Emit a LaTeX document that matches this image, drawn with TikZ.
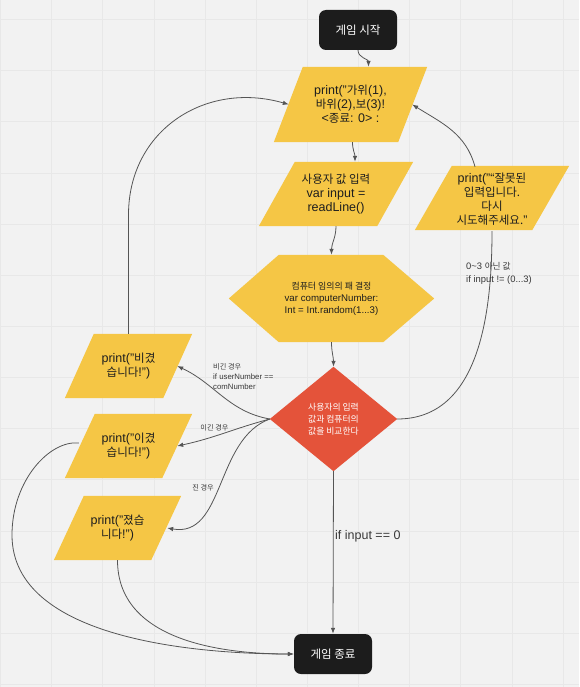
\documentclass[tikz,border=0pt]{standalone}
\usepackage{fontspec}
\setmainfont{Liberation Sans}
\newfontfamily\kr{Noto Sans CJK KR}[Scale=0.92]
\usetikzlibrary{arrows.meta,calc}

\definecolor{bgc}{HTML}{F2F2F2}
\definecolor{gridc}{HTML}{E8E8E8}
\definecolor{yel}{HTML}{F5C645}
\definecolor{redc}{HTML}{E4533A}
\definecolor{blk}{HTML}{1C1C1C}
\definecolor{ink}{HTML}{1E1E1E}
\definecolor{linec}{HTML}{555555}
\definecolor{lblc}{HTML}{383838}

\pgfdeclarelayer{canvas}
\pgfdeclarelayer{shapes}
\pgfsetlayers{canvas,shapes,main}

\tikzset{
  boxtext/.style={align=center, text=ink, inner sep=0pt,
    font=\fontsize{12.5}{14}\selectfont},
  smalltext/.style={align=center, text=ink, inner sep=0pt,
    font=\fontsize{9.7}{12}\selectfont},
  terminal/.style={fill=blk, rounded corners=7pt, minimum width=78pt,
    minimum height=40pt, text=white, inner sep=0pt,
    font=\fontsize{12.5}{14}\selectfont\kr},
  conn/.style={draw=linec, line width=0.8pt,
    -{Latex[length=6pt,width=4.5pt]}},
  plainline/.style={draw=linec, line width=0.8pt},
  lbl/.style={text=lblc, inner sep=0pt, align=left},
  gridline/.style={draw=gridc, line width=0.8pt},
}

\begin{document}
\begin{tikzpicture}[x=1pt,y=-1pt]
% canvas with grid
\begin{pgfonlayer}{canvas}
  \path[use as bounding box, fill=bgc] (0,0) rectangle (579,687);
  \foreach \i in {0,...,11} \draw[gridline] ({0.5+51.15*\i},0) -- ({0.5+51.15*\i},687);
  \foreach \i in {0,...,13} \draw[gridline] (0,{19.5+51.15*\i}) -- (579,{19.5+51.15*\i});
\end{pgfonlayer}

% terminals
\node[terminal] (start) at (358,30) {게임 시작};
\node[terminal] (endn) at (333,654) {게임 종료};

% input / output boxes (parallelograms drawn behind)
\node[boxtext, minimum width=153pt, minimum height=75pt] (b1) at (350.5,104.5)
  {print("{\kr 가위}(1),\\{\kr 바위}(2),{\kr 보}(3)!\\<{\kr 종료}: 0> :};
\node[boxtext, minimum width=154pt, minimum height=64pt] (b2) at (336,194)
  {{\kr 사용자 값 입력}\\var input =\\readLine()};
\node[boxtext, minimum width=154pt, minimum height=64pt] (wrong) at (492,199)
  {print("“{\kr 잘못된}\\{\kr 입력입니다.}\\{\kr 다시}\\{\kr 시도해주세요.}"};
\node[boxtext, minimum width=127pt, minimum height=64pt] (bk) at (128.5,366)
  {print("{\kr 비겼}\\{\kr 습니다}!")};
\node[boxtext, minimum width=127pt, minimum height=64pt] (yk) at (128.5,446)
  {print("{\kr 이겼}\\{\kr 습니다}!")};
\node[boxtext, minimum width=127pt, minimum height=64pt] (jk) at (117.5,528)
  {print("{\kr 졌습}\\{\kr 니다}!")};

% preparation hexagon and decision diamond
\node[smalltext, minimum width=205pt, minimum height=87pt] (hex) at (331.5,298.5)
  {{\kr 컴퓨터 임의의 패 결정}\\var computerNumber:\\Int = Int.random(1...3)};
\node[smalltext, text=white, minimum width=127pt, minimum height=104pt,
  font=\fontsize{9.6}{12}\selectfont\kr] (dia) at (333.5,419)
  {사용자의 입력\\값과 컴퓨터의\\값을 비교한다};

\begin{pgfonlayer}{shapes}
  \fill[yel] (b1.south west) -- ([xshift=-29pt]b1.south east) -- (b1.north east) -- ([xshift=29pt]b1.north west) -- cycle;
  \fill[yel] (b2.south west) -- ([xshift=-36pt]b2.south east) -- (b2.north east) -- ([xshift=36pt]b2.north west) -- cycle;
  \fill[yel] ([yshift=1pt]wrong.south west) -- ([xshift=-37pt,yshift=1pt]wrong.south east) -- ([yshift=1pt]wrong.north east) -- ([xshift=37pt,yshift=1pt]wrong.north west) -- cycle;
  \fill[yel] (bk.south west) -- ([xshift=-29pt]bk.south east) -- (bk.north east) -- ([xshift=29pt]bk.north west) -- cycle;
  \fill[yel] (yk.south west) -- ([xshift=-30pt]yk.south east) -- (yk.north east) -- ([xshift=30pt]yk.north west) -- cycle;
  \fill[yel] (jk.south west) -- ([xshift=-30pt]jk.south east) -- (jk.north east) -- ([xshift=30pt]jk.north west) -- cycle;
  \fill[yel] (hex.west) -- ([xshift=50pt]hex.north west) -- ([xshift=-51pt]hex.north east)
    -- (hex.east) -- ([xshift=-51pt]hex.south east) -- ([xshift=50pt]hex.south west) -- cycle;
  \fill[redc] (dia.north) -- (dia.east) -- (dia.south) -- (dia.west) -- cycle;
\end{pgfonlayer}

% main flow
\draw[conn] (start.south) to[out=-90,in=90] ([xshift=18pt]b1.north);
\draw[conn] ([xshift=2pt]b1.south) to[out=-90,in=90] ([xshift=19pt]b2.north);
\draw[conn] (b2.south) to[out=-90,in=90] (hex.north);
\draw[conn] (hex.south) to[out=-90,in=90] (dia.north);
\draw[conn] (dia.south) -- (endn.north);
\node[lbl, anchor=west, font=\fontsize{12.5}{14}\selectfont] (lblquit) at (335,536) {if input == 0};

% invalid input loop
\draw[plainline] (dia.east) to[out=0,in=-90] (wrong.south);
\node[lbl, anchor=west, font=\fontsize{9.4}{13}\selectfont] (lblwrong) at (466,273.5)
  {0\textasciitilde3 {\kr 아닌 값}\\if input != (0...3)};
\draw[conn] ([xshift=-17pt]wrong.north) to[out=105,in=-32] ([xshift=-15pt]b1.east);

% comparison outcomes
\draw[conn] (dia.west) to[out=170,in=-25] ([xshift=-15pt]bk.east);
\draw[conn] (dia.west) to[out=195,in=12] ([xshift=-15pt]yk.east);
\draw[conn] (dia.west) to[out=200,in=-10] ([xshift=-14pt]jk.east);
\node[lbl, anchor=west, font=\fontsize{7.8}{10}\selectfont] (lbldraw) at (213,377)
  {{\kr 비긴 경우}\\if userNumber ==\\comNumber};
\node[lbl, font=\fontsize{7.8}{10}\selectfont\kr] (lblwin) at (214.5,428) {이긴 경우};
\node[lbl, font=\fontsize{7.8}{10}\selectfont\kr] (lbllose) at (203,488) {진 경우};

% draw goes back to the prompt
\draw[conn] (bk.north) -- ++(0,-119) .. controls (128.5,130) and (206,80.5) .. ([xshift=15pt]b1.west);

% win / lose end the game
\draw[conn] ([xshift=14pt,yshift=3pt]yk.west) .. controls (50,440) and (12,480) .. (12,535)
  .. controls (12,640) and (200,654) .. (endn.west);
\draw[conn] (jk.south) .. controls (117.5,640) and (220,654) .. (endn.west);
\end{tikzpicture}
\end{document}
